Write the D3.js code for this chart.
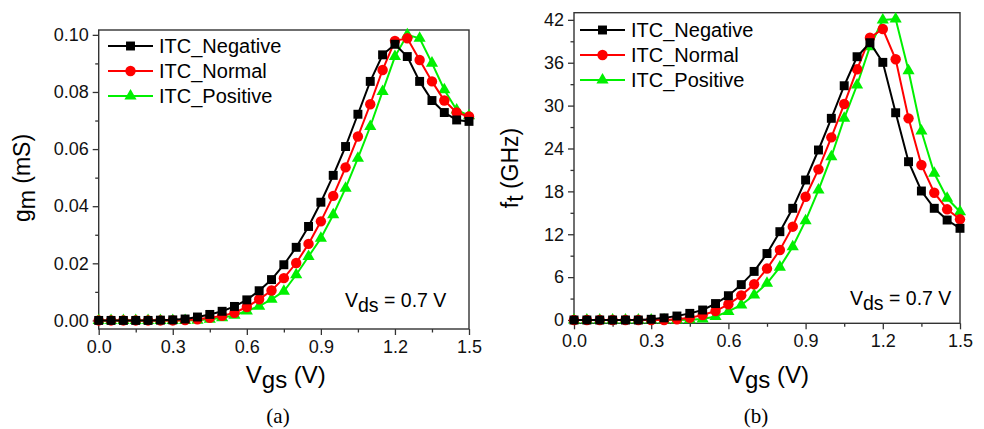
<!DOCTYPE html>
<html>
<head>
<meta charset="utf-8">
<script src="https://cdn.jsdelivr.net/npm/d3@7"></script>
<style>
  body { margin: 0; background: #fff; }
  svg text { font-family: Arial, "Liberation Sans", sans-serif; }
</style>
</head>
<body>
<div id="chart"></div>
<script>
var width = 984;
var height = 429;

// gate voltage sweep (V)
var vgs = [0.00, 0.05, 0.10, 0.15, 0.20, 0.25, 0.30, 0.35, 0.40, 0.45,
           0.50, 0.55, 0.60, 0.65, 0.70, 0.75, 0.80, 0.85, 0.90, 0.95,
           1.00, 1.05, 1.10, 1.15, 1.20, 1.25, 1.30, 1.35, 1.40, 1.45, 1.50];

// transconductance gm (mS)
var gmNegative = [0, 0, 0, 0, 0, 0.0001, 0.0002, 0.0005, 0.0012, 0.0021,
                  0.0032, 0.0049, 0.0072, 0.0104, 0.0143, 0.0195, 0.0256, 0.0329, 0.0414, 0.0508,
                  0.0609, 0.0722, 0.0837, 0.0930, 0.0967, 0.0924, 0.0837, 0.0770, 0.0728, 0.0702, 0.0697];
var gmNormal   = [0, 0, 0, 0, 0, 0, 0, 0.0001, 0.0004, 0.0009,
                  0.0016, 0.0027, 0.0047, 0.0074, 0.0105, 0.0148, 0.0201, 0.0268, 0.0347, 0.0436,
                  0.0536, 0.0644, 0.0757, 0.0877, 0.0979, 0.0988, 0.0912, 0.0837, 0.0770, 0.0728, 0.0714];
var gmPositive = [0, 0, 0, 0, 0, 0, 0, 0, 0.0001, 0.0004,
                  0.0009, 0.0018, 0.0033, 0.0050, 0.0074, 0.0102, 0.0160, 0.0224, 0.0288, 0.0370,
                  0.0463, 0.0568, 0.0679, 0.0802, 0.0924, 0.1000, 0.0988, 0.0901, 0.0808, 0.0737, 0.0717];

// cut-off frequency ft (GHz)
var ftNegative = [0, 0, 0, 0, 0, 0, 0.1, 0.3, 0.56, 0.93,
                  1.4, 2.3, 3.4, 4.95, 6.8, 9.3, 12.36, 15.63, 19.59, 23.79,
                  28.22, 32.78, 36.84, 38.8, 36.05, 29.0, 22.15, 18.05, 15.63, 13.99, 12.83];
var ftNormal   = [0, 0, 0, 0, 0, 0, 0, 0, 0.1, 0.3,
                  0.7, 1.25, 2.2, 3.45, 5.0, 7.2, 9.8, 13.06, 17.25, 21.08,
                  25.56, 30.22, 35.08, 39.5, 40.72, 36.48, 28.22, 21.69, 17.81, 15.49, 14.09];
var ftPositive = [0, 0, 0, 0, 0, 0, 0, 0, 0, 0.05,
                  0.15, 0.5, 1.2, 2.1, 3.5, 5.13, 7.4, 10.26, 13.9, 18.19,
                  22.85, 28.22, 32.88, 38.24, 41.98, 42.12, 34.88, 26.44, 20.53, 17.03, 15.15];

var seriesNames = ["ITC_Negative", "ITC_Normal", "ITC_Positive"];

var xTicks = [0.0, 0.3, 0.6, 0.9, 1.2, 1.5];
var xMinorTicks = [0.15, 0.45, 0.75, 1.05, 1.35];
var gmTicks = [0.00, 0.02, 0.04, 0.06, 0.08, 0.10];
var gmMinorTicks = [0.01, 0.03, 0.05, 0.07, 0.09];
var ftTicks = [0, 6, 12, 18, 24, 30, 36, 42];
var ftMinorTicks = [3, 9, 15, 21, 27, 33, 39];

var colors = { "ITC_Negative": "#000000", "ITC_Normal": "#ff0000", "ITC_Positive": "#00f000" };
var shapes = { "ITC_Negative": d3.symbolSquare, "ITC_Normal": d3.symbolCircle, "ITC_Positive": d3.symbolTriangle };
var sizes = { "ITC_Negative": 80, "ITC_Normal": 85, "ITC_Positive": 64 };

function createSVG() {
  return d3.select("#chart")
    .append("svg")
    .attr("width", width)
    .attr("height", height);
}

function drawPanel(svg, cfg) {
  var x = d3.scaleLinear().domain([0, 1.5]).range([cfg.left, cfg.right]);
  var y = d3.scaleLinear().domain(cfg.yDomain).range([cfg.bottom, cfg.top]);
  var axisColor = "#333";

  // x axis, major and minor ticks
  var xMajor = svg.append("g")
    .attr("transform", "translate(0," + cfg.bottom + ")")
    .call(d3.axisBottom(x).tickValues(xTicks).tickSize(6).tickPadding(5)
      .tickFormat(d3.format(".1f")));
  var xMinor = svg.append("g")
    .attr("transform", "translate(0," + cfg.bottom + ")")
    .call(d3.axisBottom(x).tickValues(xMinorTicks).tickSize(3.5).tickFormat(""));

  // y axis
  var yMajor = svg.append("g")
    .attr("transform", "translate(" + cfg.left + ",0)")
    .call(d3.axisLeft(y).tickValues(cfg.ticks).tickSize(6).tickPadding(4)
      .tickFormat(cfg.format));
  var yMinor = svg.append("g")
    .attr("transform", "translate(" + cfg.left + ",0)")
    .call(d3.axisLeft(y).tickValues(cfg.minorTicks).tickSize(3.5).tickFormat(""));

  [xMajor, xMinor, yMajor, yMinor].forEach(function(g) {
    g.select(".domain").remove();
    g.selectAll("line").attr("stroke", axisColor).attr("stroke-width", 1.3);
    g.selectAll("text").attr("fill", "#111").style("font-size", "18px");
  });

  // frame
  svg.append("rect")
    .attr("x", cfg.left)
    .attr("y", cfg.top)
    .attr("width", cfg.right - cfg.left)
    .attr("height", cfg.bottom - cfg.top)
    .attr("fill", "none")
    .attr("stroke", axisColor)
    .attr("stroke-width", 1.4);

  var line = d3.line()
    .x(function(d) { return x(d[0]); })
    .y(function(d) { return y(d[1]); });

  // draw positive first so negative sits on top
  for (var k = cfg.series.length - 1; k >= 0; k--) {
    var name = seriesNames[k];
    var pts = vgs.map(function(v, i) { return [v, cfg.series[k][i]]; });
    svg.append("path")
      .datum(pts)
      .attr("d", line)
      .attr("fill", "none")
      .attr("stroke", colors[name])
      .attr("stroke-width", 2);
    svg.append("g").selectAll("path")
      .data(pts)
      .enter()
      .append("path")
      .attr("transform", function(d) { return "translate(" + x(d[0]) + "," + y(d[1]) + ")"; })
      .attr("d", d3.symbol().type(shapes[name]).size(sizes[name]))
      .attr("fill", colors[name]);
  }

  // legend
  var legend = svg.append("g")
    .attr("transform", "translate(" + cfg.legendX + "," + cfg.legendY + ")");
  seriesNames.forEach(function(name, i) {
    var row = legend.append("g").attr("transform", "translate(0," + (i * 25) + ")");
    row.append("line")
      .attr("x1", 0).attr("x2", 45)
      .attr("stroke", colors[name]).attr("stroke-width", 2);
    row.append("path")
      .attr("transform", "translate(22.5,0)")
      .attr("d", d3.symbol().type(shapes[name]).size(sizes[name]))
      .attr("fill", colors[name]);
    row.append("text")
      .attr("x", 51)
      .attr("dy", "0.35em")
      .style("font-size", "20px")
      .text(name);
  });

  // bias annotation
  var note = svg.append("text")
    .attr("x", cfg.noteX)
    .attr("y", cfg.noteY)
    .style("font-size", "19.5px");
  note.append("tspan").text("V");
  note.append("tspan").attr("dy", 5).text("ds");
  note.append("tspan").attr("dy", -5).text(" = 0.7 V");

  // x title
  var xt = svg.append("text")
    .attr("x", (cfg.left + cfg.right) / 2 + 2)
    .attr("y", 383)
    .attr("text-anchor", "middle")
    .style("font-size", "24px");
  xt.append("tspan").text("V");
  xt.append("tspan").attr("dy", 5).text("gs");
  xt.append("tspan").attr("dy", -5).text(" (V)");

  // y title
  var yt = svg.append("text")
    .attr("transform", "translate(" + cfg.yTitleX + "," + cfg.yTitleY + ") rotate(-90)")
    .attr("text-anchor", "middle")
    .style("font-size", "23px");
  yt.append("tspan").text(cfg.yTitle[0]);
  yt.append("tspan").attr("dy", 5).text(cfg.yTitle[1]);
  yt.append("tspan").attr("dy", -5).text(cfg.yTitle[2]);

  // caption
  svg.append("text")
    .attr("x", cfg.captionX)
    .attr("y", 423)
    .attr("text-anchor", "middle")
    .style("font-family", "'Liberation Serif', 'DejaVu Serif', serif")
    .style("font-size", "21px")
    .text(cfg.caption);
}

function main() {
  var svg = createSVG();

  drawPanel(svg, {
    left: 98.7, right: 469, top: 30, bottom: 329,
    yDomain: [-0.003, 0.1017],
    ticks: gmTicks, minorTicks: gmMinorTicks, format: d3.format(".2f"),
    series: [gmNegative, gmNormal, gmPositive],
    legendX: 108, legendY: 46,
    noteX: 345, noteY: 307,
    yTitle: ["g", "m", " (mS)"], yTitleX: 30, yTitleY: 178,
    caption: "(a)", captionX: 278
  });

  drawPanel(svg, {
    left: 574, right: 960, top: 12.7, bottom: 323.3,
    yDomain: [-0.46, 43],
    ticks: ftTicks, minorTicks: ftMinorTicks, format: d3.format("d"),
    series: [ftNegative, ftNormal, ftPositive],
    legendX: 580, legendY: 30,
    noteX: 850, noteY: 305,
    yTitle: ["f", "t", " (GHz)"], yTitleX: 518, yTitleY: 168,
    caption: "(b)", captionX: 756
  });
}

window.onload = function() {
  main();
};
</script>
</body>
</html>
